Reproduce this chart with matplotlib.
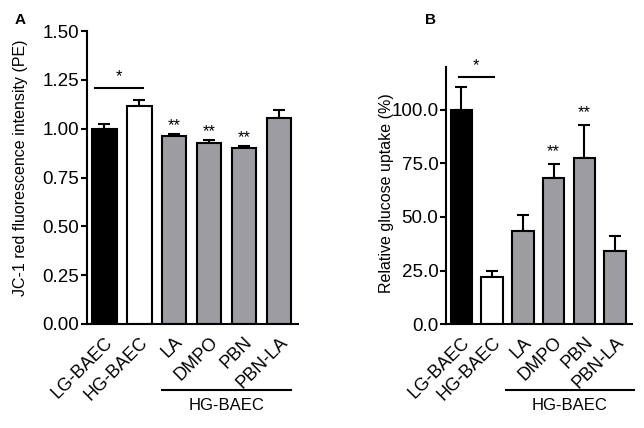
import matplotlib
matplotlib.use("Agg")
import matplotlib.pyplot as plt
from matplotlib.transforms import blended_transform_factory

plt.rcParams['font.family'] = ['Liberation Sans', 'DejaVu Sans']

categories = ["LG-BAEC", "HG-BAEC", "LA", "DMPO", "PBN", "PBN-LA"]
group_label = "HG-BAEC"

jc1_values = [1.00, 1.116, 0.963, 0.927, 0.901, 1.053]
jc1_errors = [0.022, 0.032, 0.010, 0.015, 0.012, 0.041]
jc1_marks = ["", "", "**", "**", "**", ""]
jc1_yticks = [0.00, 0.25, 0.50, 0.75, 1.00, 1.25, 1.50]

glu_values = [100.0, 22.0, 43.5, 68.0, 77.6, 34.1]
glu_errors = [10.7, 2.9, 7.3, 6.9, 15.4, 7.2]
glu_marks = ["", "", "", "**", "**", ""]
glu_yticks = [0.0, 25.0, 50.0, 75.0, 100.0]

colors = ["#000000", "#ffffff", "#9d9da1", "#9d9da1", "#9d9da1", "#9d9da1"]

W, H = 644, 428
fig = plt.figure(figsize=(W / 100, H / 100), dpi=100)
axA = fig.add_axes([87/W, (H-324)/H, 211/W, 293/H])
axB = fig.add_axes([446/W, (H-324.3)/H, 186/W, 257.6/H])

def draw(ax, vals, errs, marks, yticks, ylim, fmt, sig_y, sig_x, star_off, mark_off, grp_x):
    x = list(range(len(vals)))
    ax.bar(x, vals, width=0.7, color=colors, edgecolor="black", linewidth=1.5, zorder=2)
    ax.errorbar(x, vals, yerr=[[0]*len(errs), errs], fmt="none", ecolor="black",
                elinewidth=1.5, capsize=4, capthick=1.5, zorder=1)
    ax.set_xlim(-0.5, 5.55)
    ax.set_ylim(*ylim)
    ax.set_yticks(yticks)
    ax.set_yticklabels([fmt.format(t) for t in yticks], fontsize=13.5)
    ax.set_xticks(x)
    ax.set_xticklabels(categories, rotation=45, ha="right", va="top",
                       rotation_mode="anchor", fontsize=13)
    ax.tick_params(axis="x", length=0, pad=7)
    ax.tick_params(axis="y", length=4, width=1.5, direction="out", pad=1.5)
    for s in ["top", "right"]:
        ax.spines[s].set_visible(False)
    for s in ["left", "bottom"]:
        ax.spines[s].set_linewidth(1.5)
    for i, m in enumerate(marks):
        if m:
            ax.text(i, vals[i] + errs[i] + mark_off, m, ha="center", va="bottom", fontsize=12)
    # significance line between bar 0 and 1
    ax.plot(sig_x, [sig_y, sig_y], color="black", lw=1.5, clip_on=False)
    ax.text(sum(sig_x) / 2, sig_y + star_off, "*", ha="center", va="bottom", fontsize=12)
    # group line under treatment bars
    tr = blended_transform_factory(ax.transData, fig.transFigure)
    ax.plot(grp_x, [1 - 390/H, 1 - 390/H], color="black", lw=1.5, transform=tr, clip_on=False)
    ax.text(sum(grp_x) / 2, 1 - 405/H, group_label, transform=tr, ha="center",
            va="center", fontsize=12)

draw(axA, jc1_values, jc1_errors, jc1_marks, jc1_yticks, (0, 1.5), "{:.2f}",
     1.207, [-0.27, 1.1], 0.02, 0.005, [1.65, 5.35])
draw(axB, glu_values, glu_errors, glu_marks, glu_yticks, (0, 120), "{:.1f}",
     115.4, [-0.08, 1.06], 1.5, 2.0, [1.44, 5.61])

fig.text(21/W, 1 - 168/H, "JC-1 red fluorescence intensity (PE)", rotation=90,
         ha="center", va="center", fontsize=11.5)
fig.text(386/W, 1 - 193/H, "Relative glucose uptake (%)", rotation=90,
         ha="center", va="center", fontsize=11.5)

fig.text(20/W, 1 - 20/H, "A", fontsize=11, fontweight="bold", ha="center", va="center")
fig.text(430/W, 1 - 20/H, "B", fontsize=11, fontweight="bold", ha="center", va="center")

fig.savefig("out.png", dpi=100)
